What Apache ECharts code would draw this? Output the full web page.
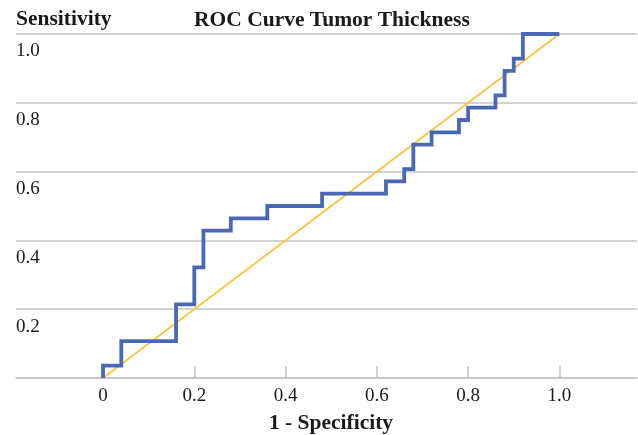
<!DOCTYPE html>
<html><head><meta charset="utf-8">
<script src="https://cdn.jsdelivr.net/npm/echarts@6/dist/echarts.min.js"></script>
<style>html,body{margin:0;padding:0;background:#fff}#c{width:638px;height:435px}</style>
</head><body><div id="c"></div>
<script>
// ROC corner points (1 - specificity, sensitivity), drawn as a step curve
const fpr = [0, 0.04, 0.16, 0.20, 0.22, 0.28, 0.36, 0.48, 0.62, 0.66, 0.68, 0.72, 0.78, 0.80, 0.86, 0.88, 0.90, 0.92, 1.0];
const tpr = [0, 1/28, 3/28, 6/28, 9/28, 12/28, 13/28, 14/28, 15/28, 16/28, 17/28, 19/28, 20/28, 21/28, 22/28, 23/28, 25/28, 26/28, 1.0];
const refX = [0, 1];
const refY = [0, 1];
const xTicks = [0, 0.2, 0.4, 0.6, 0.8, 1.0];
const yTicks = [0.2, 0.4, 0.6, 0.8, 1.0];

const FONT = '"Liberation Serif", "Times New Roman", serif';
const chart = echarts.init(document.getElementById('c'));
chart.setOption({
  animation: false,
  title: {
    text: 'ROC Curve Tumor Thickness',
    left: 189, top: 4,
    textStyle: { fontFamily: FONT, fontSize: 21.5, fontWeight: 'bold', color: '#1a1a1a' }
  },
  grid: { left: 16, right: 1, top: 34, bottom: 57, outerBoundsMode: 'none', containLabel: false },
  xAxis: {
    type: 'value',
    min: -0.1907, max: 1.1701,
    name: '1 - Specificity',
    nameLocation: 'middle',
    nameGap: 34,
    nameTextStyle: { fontFamily: FONT, fontSize: 21.5, fontWeight: 'bold', color: '#1a1a1a', padding: [0, 0, 0, 9] },
    axisLine: { show: true, onZero: false, lineStyle: { color: '#c4c4c4', width: 1.5 } },
    axisTick: { show: true, inside: true, length: 12, customValues: xTicks, lineStyle: { color: '#c4c4c4', width: 1.5 } },
    axisLabel: {
      customValues: xTicks, margin: 9,
      fontFamily: FONT, fontSize: 19, color: '#1a1a1a',
      formatter: v => (v === 0 ? '0' : v.toFixed(1))
    },
    splitLine: { show: false }
  },
  yAxis: {
    type: 'value',
    min: 0, max: 1, interval: 0.2,
    name: 'Sensitivity',
    nameLocation: 'end',
    nameGap: 4,
    nameTextStyle: { fontFamily: FONT, fontSize: 21.5, fontWeight: 'bold', color: '#1a1a1a', align: 'left', verticalAlign: 'bottom' },
    axisLine: { show: false, onZero: false },
    axisTick: { show: false },
    axisLabel: {
      inside: true, margin: 0, align: 'left', verticalAlign: 'top', padding: [8, 0, 0, 0],
      customValues: yTicks,
      fontFamily: FONT, fontSize: 19, color: '#1a1a1a',
      formatter: v => v.toFixed(1)
    },
    splitLine: { show: true, lineStyle: { color: '#c4c4c4', width: 1.5 } }
  },
  series: [
    {
      type: 'line',
      data: refX.map((x, i) => [x, refY[i]]),
      showSymbol: false, symbol: 'none',
      lineStyle: { color: '#f7c343', width: 1.6 },
      z: 2
    },
    {
      type: 'line',
      step: 'start',
      data: fpr.map((x, i) => [x, tpr[i]]),
      showSymbol: false, symbol: 'none',
      lineStyle: { color: '#4a68b3', width: 3.8, join: 'miter', cap: 'butt' },
      z: 3
    }
  ]
});
</script></body></html>
